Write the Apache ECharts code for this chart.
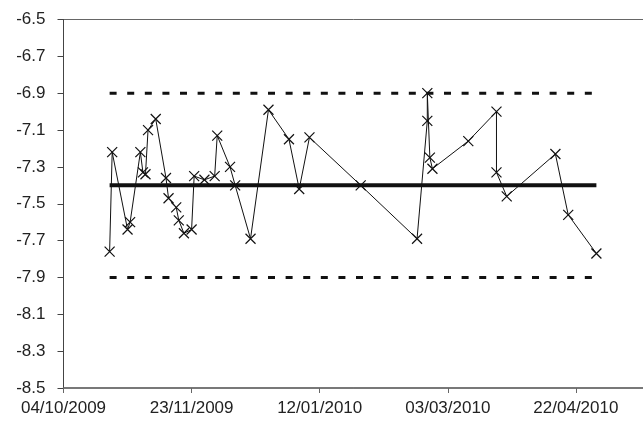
<!DOCTYPE html>
<html>
<head>
<meta charset="utf-8">
<script src="https://cdn.jsdelivr.net/npm/echarts@6/dist/echarts.min.js"></script>
<style>
html,body{margin:0;padding:0;background:#fff;}
#chart{width:643px;height:422px;}
</style>
</head>
<body>
<div id="chart"></div>
<script>
// ---- data ----
var axisStartDate = '04/10/2009';
var axisEndDate = '11/06/2010';
var tickIntervalDays = 50;
var sampleDates = [
  '22/10/2009','23/10/2009','29/10/2009','30/10/2009','03/11/2009','04/11/2009','05/11/2009',
  '06/11/2009','09/11/2009','13/11/2009','14/11/2009','17/11/2009','18/11/2009','20/11/2009',
  '23/11/2009','24/11/2009','28/11/2009','02/12/2009','03/12/2009','08/12/2009','10/12/2009',
  '16/12/2009','23/12/2009','31/12/2009','04/01/2010','08/01/2010','28/01/2010','19/02/2010',
  '23/02/2010','23/02/2010','24/02/2010','25/02/2010','11/03/2010','22/03/2010','22/03/2010',
  '26/03/2010','14/04/2010','19/04/2010','30/04/2010'
];
var sampleValues = [
  -7.76,-7.22,-7.64,-7.60,-7.22,-7.33,-7.34,
  -7.10,-7.04,-7.36,-7.47,-7.52,-7.59,-7.66,
  -7.64,-7.35,-7.37,-7.35,-7.13,-7.30,-7.40,
  -7.69,-6.99,-7.15,-7.42,-7.14,-7.40,-7.69,
  -7.05,-6.90,-7.25,-7.31,-7.16,-7.00,-7.33,
  -7.46,-7.23,-7.56,-7.77
];
var meanValue = -7.4;
var upperLimit = -6.9;
var lowerLimit = -7.9;
var yMin = -8.5, yMax = -6.5, yInterval = 0.2;

// ---- helpers ----
function toUTC(s){ var p = s.split('/'); return Date.UTC(+p[2], +p[1]-1, +p[0]); }
var t0 = toUTC(axisStartDate);
function dayOf(s){ return Math.round((toUTC(s) - t0) / 86400000); }
function fmtDay(d){
  var dt = new Date(t0 + d*86400000);
  var dd = ('0'+dt.getUTCDate()).slice(-2), mm = ('0'+(dt.getUTCMonth()+1)).slice(-2);
  return dd + '/' + mm + '/' + dt.getUTCFullYear();
}
var pts = sampleDates.map(function(s,i){ return [dayOf(s), sampleValues[i]]; });
var firstDay = dayOf(sampleDates[0]);
var lastDay = dayOf(sampleDates[sampleDates.length-1]);
var xMax = dayOf(axisEndDate);

var font = 'Liberation Sans, Arial, sans-serif';
var chart = echarts.init(document.getElementById('chart'), null, {renderer:'canvas'});
chart.setOption({
  animation: false,
  backgroundColor: '#fff',
  grid: { left: 63.5, top: 19.5, right: -61, bottom: 34, show: true, borderColor: '#666', borderWidth: 1,
    containLabel: false, outerBoundsMode: 'none' },
  xAxis: {
    type: 'value', min: 0, max: xMax, interval: tickIntervalDays,
    axisLine: { show: true, lineStyle: { color: '#666', width: 1.5 } },
    axisTick: { show: true, length: 5, inside: false, lineStyle: { color: '#666' } },
    splitLine: { show: false },
    axisLabel: { color: '#222', fontSize: 17, fontFamily: font, margin: 12, hideOverlap: false,
      formatter: function(v){ return fmtDay(v); } }
  },
  yAxis: {
    type: 'value', min: yMin, max: yMax, interval: yInterval,
    axisLine: { show: true, lineStyle: { color: '#444', width: 1 } },
    axisTick: { show: true, length: 6, inside: false, lineStyle: { color: '#444' } },
    splitLine: { show: false },
    axisLabel: { color: '#222', fontSize: 17, fontFamily: font, margin: 18,
      formatter: function(v){ return v.toFixed(1); } }
  },
  series: [
    { type: 'line', data: [[firstDay, upperLimit],[lastDay, upperLimit]], symbol: 'none',
      lineStyle: { color: '#111', width: 3, type: [7, 10.6] }, z: 2 },
    { type: 'line', data: [[firstDay, lowerLimit],[lastDay, lowerLimit]], symbol: 'none',
      lineStyle: { color: '#111', width: 3, type: [7, 10.6] }, z: 2 },
    { type: 'line', data: [[firstDay, meanValue],[lastDay, meanValue]], symbol: 'none',
      lineStyle: { color: '#111', width: 4 }, z: 3 },
    { type: 'line', data: pts, showAllSymbol: true,
      symbol: 'path://M0,0L10,10M10,0L0,10', symbolSize: 10,
      itemStyle: { color: '#111', borderColor: '#111', borderWidth: 1.2 },
      lineStyle: { color: '#111', width: 1 }, z: 4 }
  ]
});
</script>
</body>
</html>
